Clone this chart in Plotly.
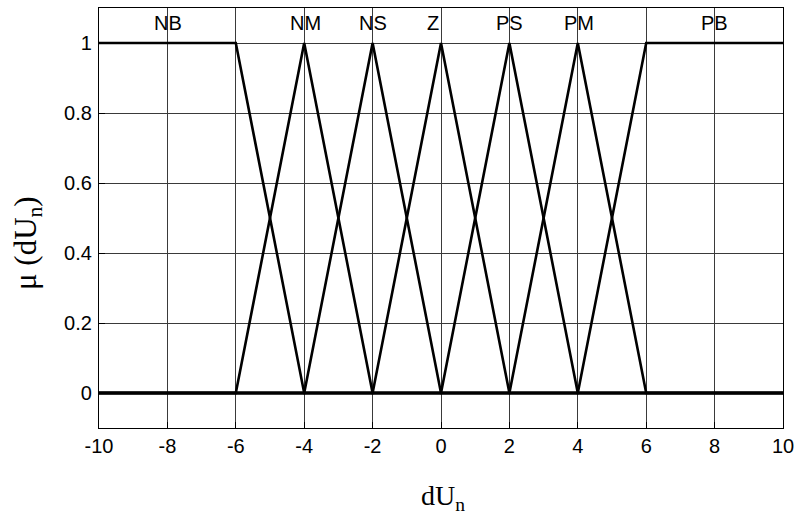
import plotly.graph_objects as go

# Membership functions (breakpoints over the universe [-10, 10])
mf_names = ["NB", "NM", "NS", "Z", "PS", "PM", "PB"]
mf_centers = [-8, -4, -2, 0, 2, 4, 8]

nb_x = [-10, -6, -4, 10]
nb_mu = [1, 1, 0, 0]
nm_x = [-10, -6, -4, -2, 10]
nm_mu = [0, 0, 1, 0, 0]
ns_x = [-10, -4, -2, 0, 10]
ns_mu = [0, 0, 1, 0, 0]
z_x = [-10, -2, 0, 2, 10]
z_mu = [0, 0, 1, 0, 0]
ps_x = [-10, 0, 2, 4, 10]
ps_mu = [0, 0, 1, 0, 0]
pm_x = [-10, 2, 4, 6, 10]
pm_mu = [0, 0, 1, 0, 0]
pb_x = [-10, 4, 6, 10]
pb_mu = [0, 0, 1, 1]

x_ticks = [-10, -8, -6, -4, -2, 0, 2, 4, 6, 8, 10]
y_ticks = [0, 0.2, 0.4, 0.6, 0.8, 1]
y_tick_text = ["0", "0.2", "0.4", "0.6", "0.8", "1"]

series = [(nb_x, nb_mu), (nm_x, nm_mu), (ns_x, ns_mu), (z_x, z_mu),
          (ps_x, ps_mu), (pm_x, pm_mu), (pb_x, pb_mu)]

fig = go.Figure()
for name, (xs, ys) in zip(mf_names, series):
    fig.add_trace(go.Scatter(x=xs, y=ys, mode="lines", name=name,
                             line=dict(color="black", width=2.6),
                             showlegend=False, hoverinfo="skip"))

tick_font = dict(family="Liberation Sans, Arial, sans-serif", size=20, color="black")

for name, c in zip(mf_names, mf_centers):
    fig.add_annotation(x=c - 0.46, y=1.056, text=name, showarrow=False,
                       xanchor="left", yanchor="middle", font=tick_font)

title_font = dict(family="Liberation Serif, Times New Roman, serif", size=28, color="black")
ytitle_font = dict(family="Liberation Serif, Times New Roman, serif", size=31, color="black")
fig.add_annotation(xref="paper", yref="paper", x=0.503, y=-0.165, text="dU<sub>n</sub>",
                   showarrow=False, xanchor="center", yanchor="middle", font=title_font)
fig.add_annotation(xref="paper", yref="paper", x=-0.104, y=0.44, text="μ (dU<sub>n</sub>)",
                   showarrow=False, xanchor="center", yanchor="middle", textangle=-90,
                   font=ytitle_font)

axis_common = dict(showline=True, linecolor="black", linewidth=1.2, mirror=True,
                   showgrid=True, gridcolor="#3a3a3a", gridwidth=0.8,
                   ticks="inside", ticklen=6, tickcolor="black", zeroline=False,
                   tickfont=tick_font, automargin=False)

fig.update_xaxes(range=[-10, 10], tickvals=x_ticks, ticktext=[str(v) for v in x_ticks],
                 **axis_common)
fig.update_yaxes(range=[-0.1, 1.1], tickvals=y_ticks, ticktext=y_tick_text,
                 ticklabelstandoff=2, **axis_common)

fig.update_layout(width=798, height=514, margin=dict(l=99, r=15, t=8, b=86),
                  plot_bgcolor="white", paper_bgcolor="white")

fig.write_html("out.html", config={"displayModeBar": False},
               post_script="document.body.style.margin='0';document.body.style.overflow='hidden';")
